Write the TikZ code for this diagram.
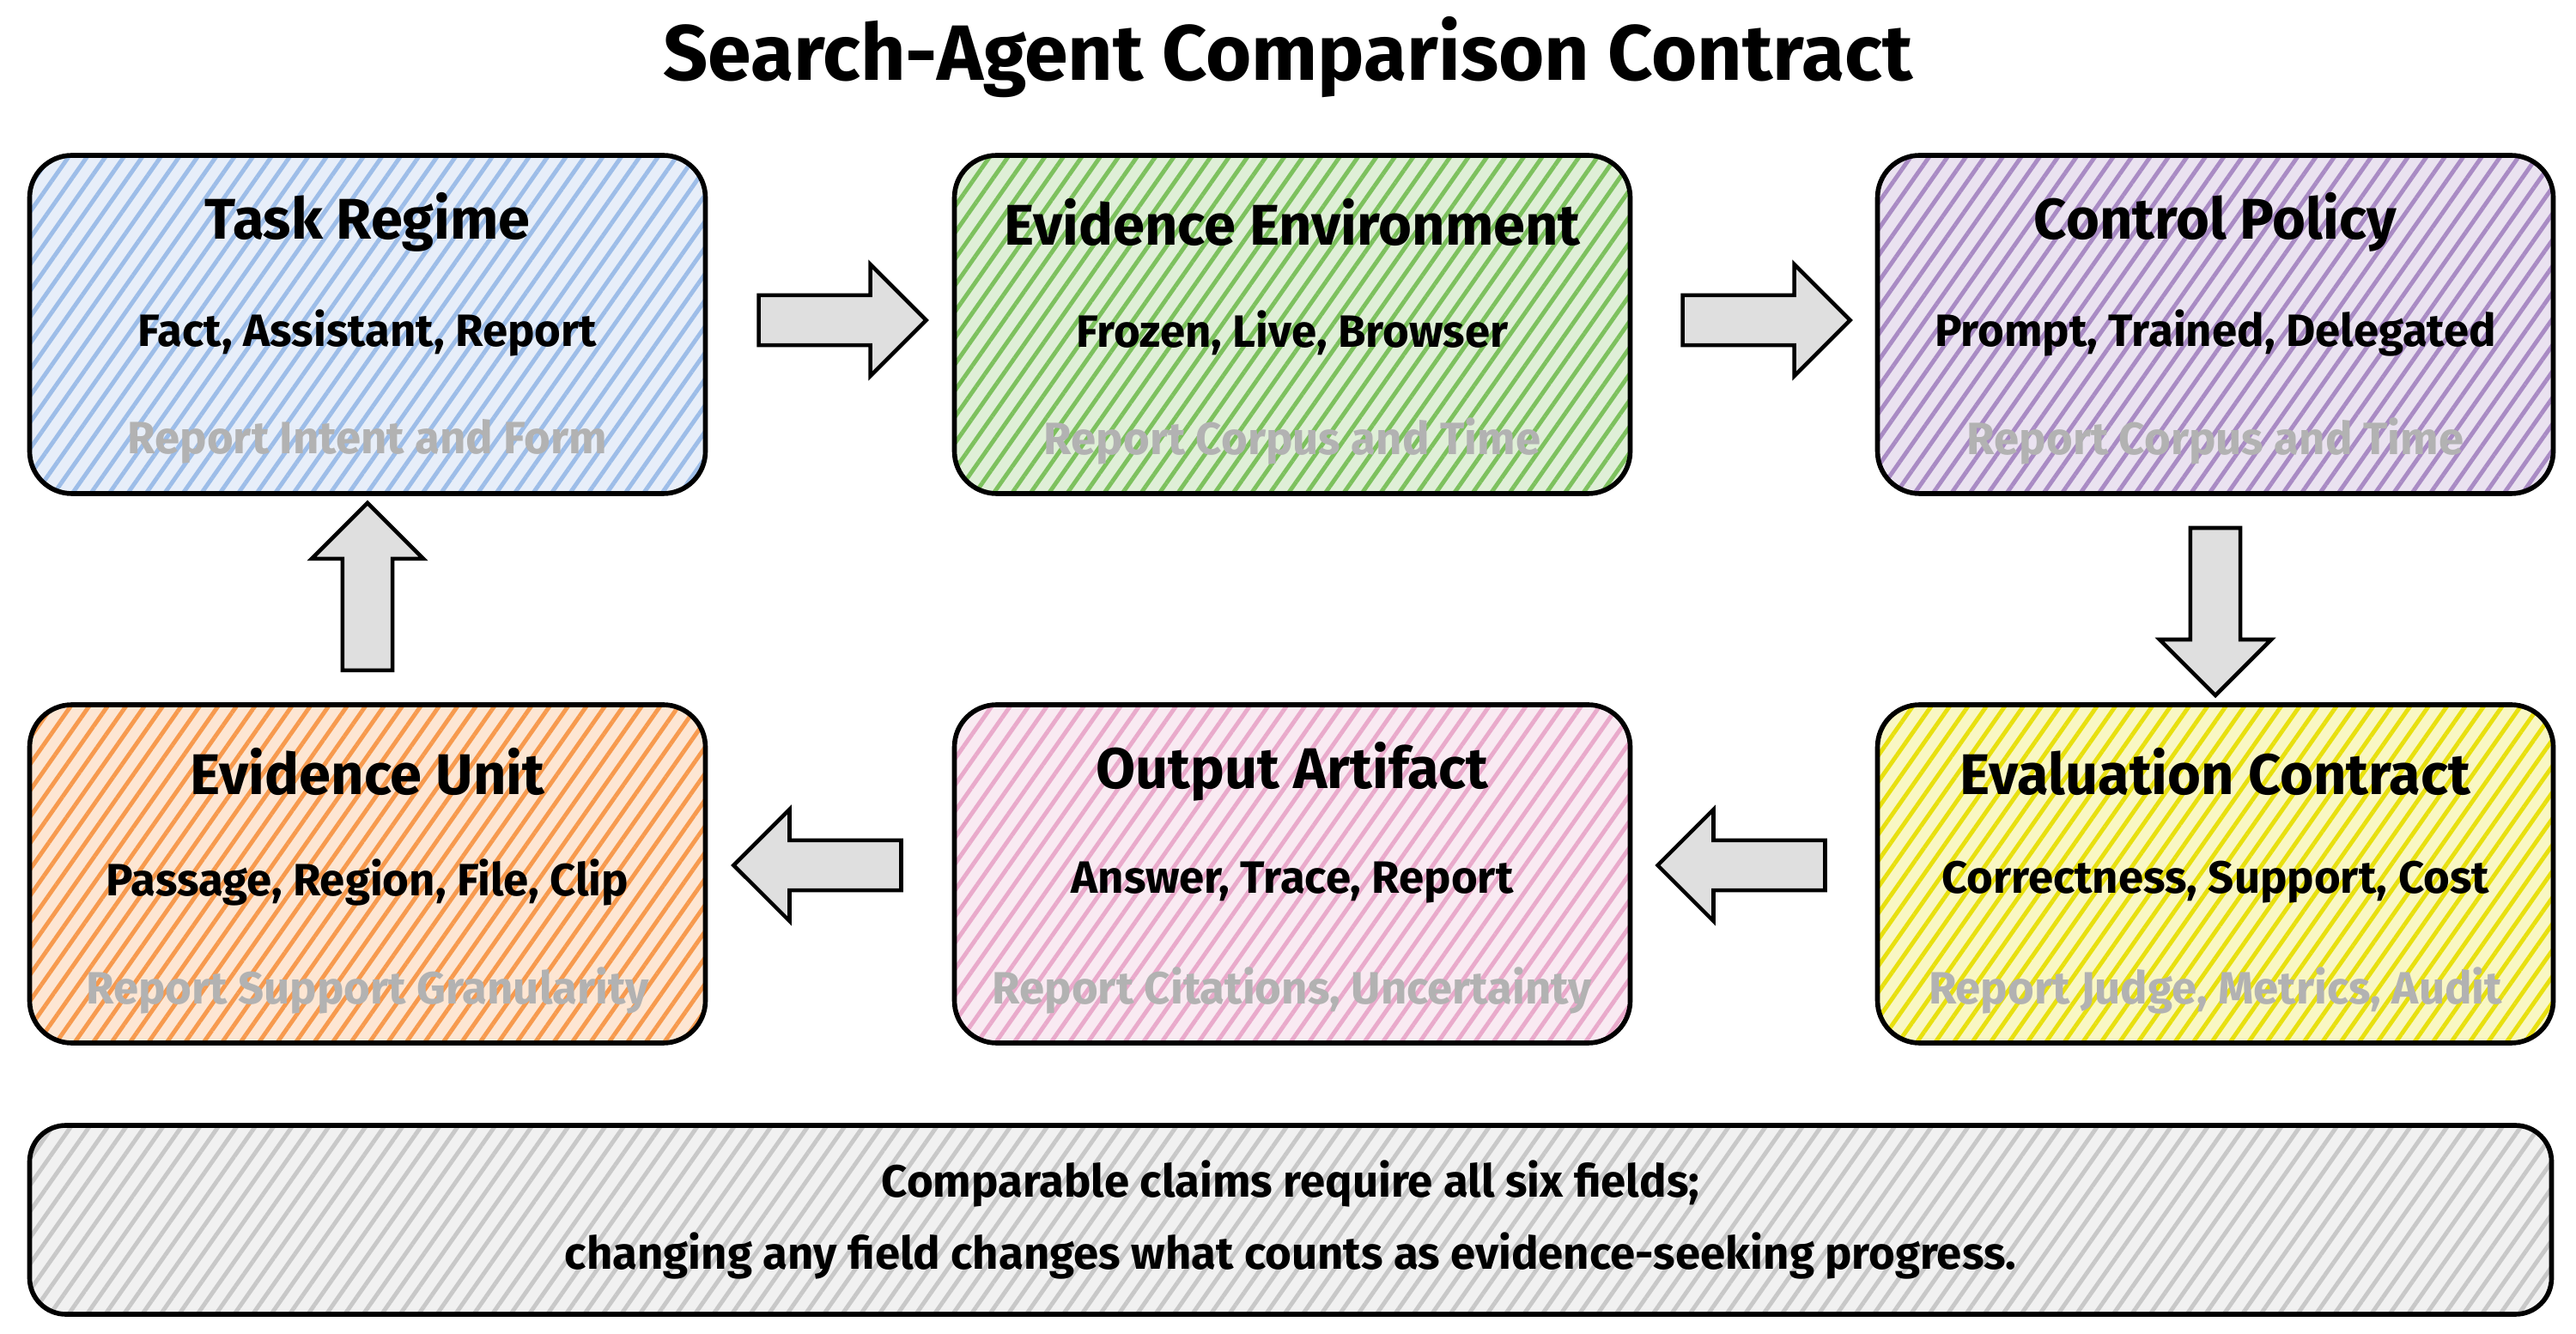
\documentclass[tikz,border=0pt]{standalone}
\usepackage{fontspec}
\setmainfont{Fira Sans}
\usetikzlibrary{patterns, patterns.meta, shapes.arrows, calc, positioning}
\definecolor{regblue}{HTML}{9DBDE8}
\definecolor{envgreen}{HTML}{7DC15E}
\definecolor{polpurple}{HTML}{A98BC4}
\definecolor{unitorange}{HTML}{F79A4E}
\definecolor{artpink}{HTML}{E9AACB}
\definecolor{evalyellow}{HTML}{E8E00F}
\definecolor{notegray}{HTML}{C8C8C8}

\tikzset{
  stage/.style={draw=black, line width=1.6pt, rounded corners=14pt,
    minimum width=7.87cm, minimum height=3.94cm},
  hatch/.style={pattern={Lines[angle=55,distance=5pt,line width=1.4pt]}, pattern color=#1},
  flow/.style={single arrow, draw=black, line width=1.3pt, fill=gray!25,
    minimum height=1.95cm, minimum width=1.3cm, single arrow head extend=0.3cm,
    inner sep=0.22cm},
  head/.style={font=\fontsize{19}{22}\selectfont\bfseries},
  opts/.style={font=\fontsize{15}{17}\selectfont\bfseries},
  hint/.style={font=\fontsize{15}{17}\selectfont\bfseries, text=gray!60}
}

\newcommand{\stagebox}[6]{%
  \fill[#6!25, rounded corners=14pt] ($(#2)+(-3.93,-1.97)$) rectangle ($(#2)+(3.93,1.97)$);
  \fill[hatch=#6, rounded corners=14pt] ($(#2)+(-3.93,-1.97)$) rectangle ($(#2)+(3.93,1.97)$);
  \node[stage] (#1) at (#2) {};
  \node[head] (#1-t) at ($(#1)+(0,1.19)$) {#3};
  \node[opts] (#1-o) at ($(#1)+(0,-0.1)$) {#4};
  \node[hint] (#1-h) at ($(#1)+(0,-1.36)$) {#5};
}

\begin{document}
\begin{tikzpicture}
    \useasboundingbox (0,0) rectangle (30,15.53);

    % Title
    \node[font=\fontsize{26}{30}\selectfont\bfseries] (title) at (15.0,14.86) {Search-Agent Comparison Contract};

    % Top row
    \stagebox{regime}{4.28,11.75}{Task Regime}{Fact, Assistant, Report}{Report Intent and Form}{regblue}
    \stagebox{env}{15.05,11.75}{Evidence Environment}{Frozen, Live, Browser}{Report Corpus and Time}{envgreen}
    \stagebox{policy}{25.8,11.75}{Control Policy}{Prompt, Trained, Delegated}{Report Corpus and Time}{polpurple}

    % Bottom row
    \stagebox{unit}{4.28,5.35}{Evidence Unit}{Passage, Region, File, Clip}{Report Support Granularity}{unitorange}
    \stagebox{artifact}{15.05,5.35}{Output Artifact}{Answer, Trace, Report}{Report Citations, Uncertainty}{artpink}
    \stagebox{eval}{25.8,5.35}{Evaluation Contract}{Correctness, Support, Cost}{Report Judge, Metrics, Audit}{evalyellow}

    % Flow arrows
    \node[flow] (a1) at ($(regime.east)!0.5!(env.west)+(0,0.05)$) {};
    \node[flow] (a2) at ($(env.east)!0.5!(policy.west)+(0,0.05)$) {};
    \node[flow, shape border rotate=270] (a3) at ($(policy.south)!0.5!(eval.north)$) {};
    \node[flow, shape border rotate=180] (a4) at ($(eval.west)!0.5!(artifact.east)+(0,0.1)$) {};
    \node[flow, shape border rotate=180] (a5) at ($(artifact.west)!0.5!(unit.east)+(0,0.1)$) {};
    \node[flow, shape border rotate=90] (a6) at ($(unit.north)!0.5!(regime.south)$) {};

    % Note
    \fill[notegray!25, rounded corners=12pt] (0.35,0.22) rectangle (29.72,2.42);
    \fill[hatch=notegray, rounded corners=12pt] (0.35,0.22) rectangle (29.72,2.42);
    \node[draw=black, line width=1.6pt, rounded corners=12pt, minimum width=29.37cm,
      minimum height=2.2cm, align=center, font=\fontsize{15}{24}\selectfont\bfseries]
      (note) at (15.03,1.32) {Comparable claims require all six fields;\\
      changing any field changes what counts as evidence-seeking progress.};
\end{tikzpicture}
\end{document}
